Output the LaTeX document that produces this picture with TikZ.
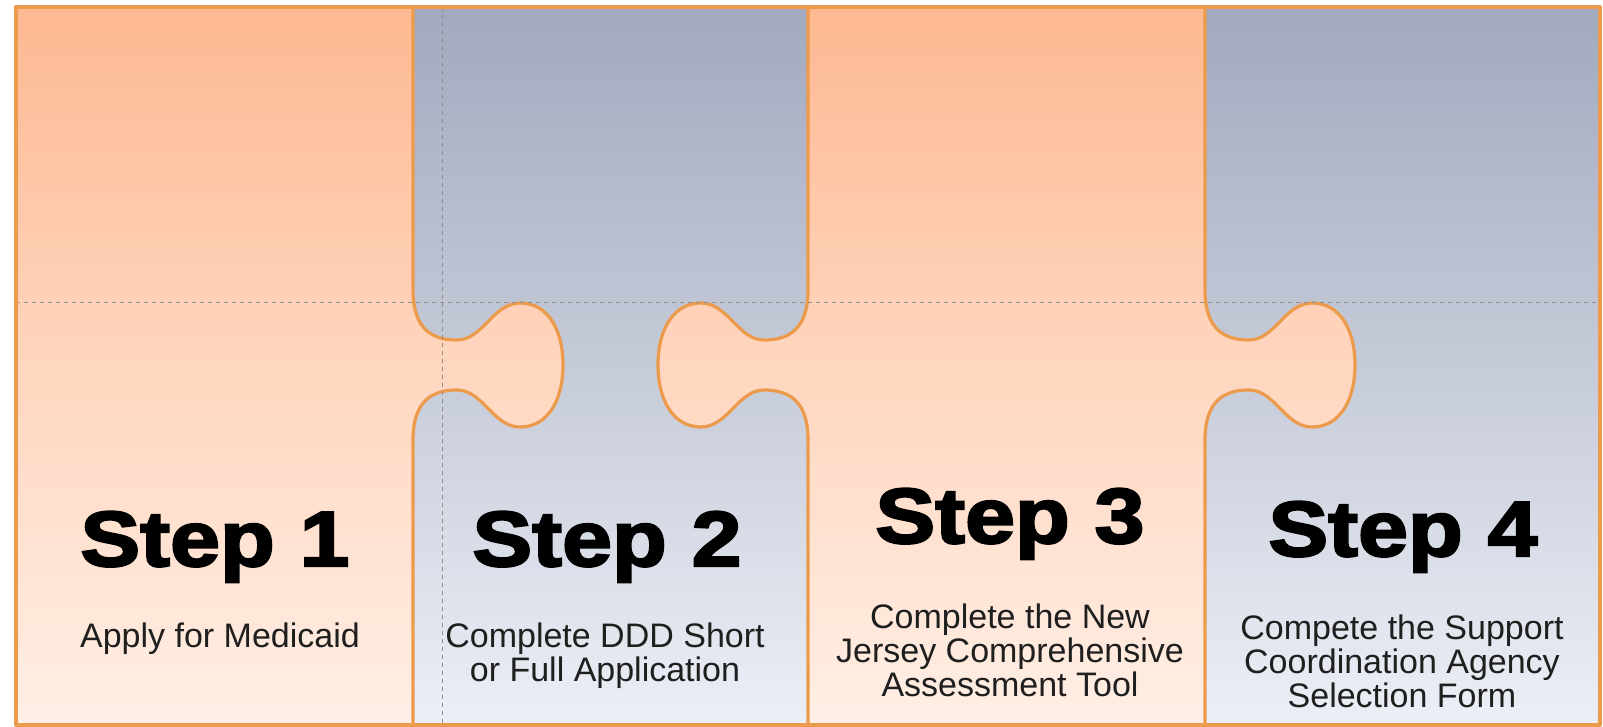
\documentclass[tikz,border=0pt]{standalone}
\usepackage{fontspec}
\setmainfont{Liberation Sans}
\newfontfamily\stepfont{Liberation Sans}[FakeStretch=1.15,BoldFeatures={FakeBold=3}]

\definecolor{peachtop}{HTML}{FDB891}
\definecolor{peachmid}{HTML}{FFD6BF}
\definecolor{peachbot}{HTML}{FFEFE5}
\definecolor{slatetop}{HTML}{A3A9BE}
\definecolor{slatemid}{HTML}{C6CBD9}
\definecolor{slatebot}{HTML}{ECEFF6}
\definecolor{edge}{HTML}{EC9A4C}
\definecolor{guide}{HTML}{8E8E8E}
\definecolor{body}{HTML}{1F1F1F}

% knob sticking out to the right of the edge x=#1 (path runs downwards)
\newcommand\knobright[1]{-- (#1,290) .. controls (#1,330) and ({#1+20},340) .. ({#1+44},340)
  .. controls ({#1+70},340) and ({#1+80},303) .. ({#1+107},303)
  .. controls ({#1+135},303) and ({#1+150},330) .. ({#1+150},365)
  .. controls ({#1+150},400) and ({#1+135},427) .. ({#1+107},427)
  .. controls ({#1+80},427) and ({#1+70},390) .. ({#1+44},390)
  .. controls ({#1+20},390) and (#1,400) .. (#1,440)}
% knob sticking out to the left of the edge x=#1 (path runs upwards)
\newcommand\knobleft[1]{-- (#1,440) .. controls (#1,400) and ({#1-20},390) .. ({#1-44},390)
  .. controls ({#1-70},390) and ({#1-80},427) .. ({#1-107},427)
  .. controls ({#1-135},427) and ({#1-150},400) .. ({#1-150},365)
  .. controls ({#1-150},330) and ({#1-135},303) .. ({#1-107},303)
  .. controls ({#1-80},303) and ({#1-70},340) .. ({#1-44},340)
  .. controls ({#1-20},340) and (#1,330) .. (#1,290)}

\begin{document}
\begin{tikzpicture}[x=0.5pt, y=-0.5pt,
	peach/.style={top color=peachtop, bottom color=peachbot, middle color=peachmid},
	slate/.style={top color=slatetop, bottom color=slatebot, middle color=slatemid},
	rim/.style={draw=edge, line width=1.6pt, line join=round},
	guideline/.style={draw=guide, line width=0.5pt, dash pattern=on 2pt off 2pt},
	title/.style={font=\stepfont\bfseries\fontsize{39}{41}\selectfont, inner sep=0pt, anchor=base},
	blurb/.style={font=\fontsize{17}{17}\selectfont, text=body, align=center, inner sep=0pt, anchor=north}]
	\fill[white] (0,0) rectangle (1603,727);
	\useasboundingbox (0,0) rectangle (1603,727);
	% \draw[help lines, step=100] (0,0) grid (1603,727);
	\shade[slate] (413,7) rectangle (808,725);
	\shade[slate] (1205,7) rectangle (1600,725);
	\shadedraw[peach, rim] (16,7) -- (413,7) \knobright{413} -- (413,725) -- (16,725) -- cycle;
	\shadedraw[peach, rim] (808,7) -- (1205,7) \knobright{1205} -- (1205,725) -- (808,725) \knobleft{808} -- cycle;

	\draw[guideline] (16,303) -- (1600,303);
	\draw[guideline] (442,7) -- (442,725);
	\draw[rim] (16,7) rectangle (1600,725);

	\node[title] (step1) at (215,566) {Step 1};
	\node[title] (step2) at (607,566) {Step 2};
	\node[title] (step3) at (1010,543) {Step 3};
	\node[title] (step4) at (1403,556) {Step 4};

	\node[blurb] (medicaid) at (220,622) {Apply for Medicaid};
	\node[blurb] (application) at (605,622) {Complete DDD Short\\or Full Application};
	\node[blurb] (assessment) at (1010,603) {Complete the New\\Jersey Comprehensive\\Assessment Tool};
	\node[blurb] (selection) at (1402,614) {Compete the Support\\Coordination Agency\\Selection Form};
\end{tikzpicture}
\end{document}
